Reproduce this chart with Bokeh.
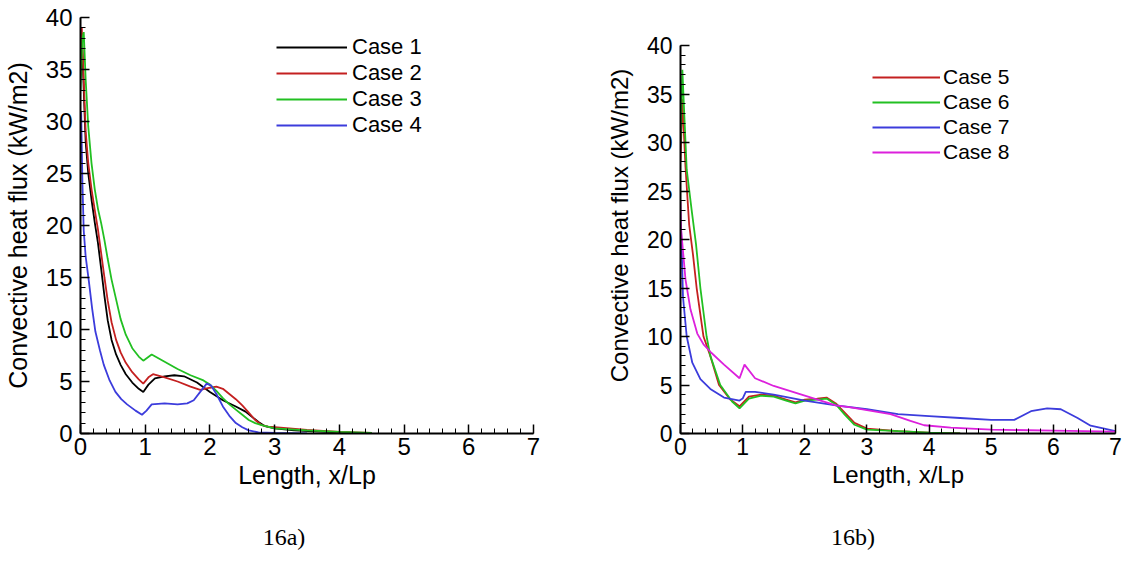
from bokeh.plotting import figure
from bokeh.layouts import row, column
from bokeh.models import Range1d, SingleIntervalTicker, Div
from bokeh.embed import file_html
from bokeh.resources import INLINE

# ---------------- data ----------------
# Panel 16a
case1_x = [0, 0.02, 0.05, 0.08, 0.12, 0.17, 0.22, 0.27, 0.32, 0.37, 0.42, 0.48, 0.55, 0.62, 0.7, 0.8, 0.9, 0.97,
           1.05, 1.15, 1.3, 1.45, 1.6, 1.8, 2.0, 2.2, 2.4, 2.55, 2.65, 2.75, 2.85, 3.0, 3.3, 3.6, 4.0, 4.5]
case1_y = [36, 38.5, 33, 28, 25, 22.5, 20.3, 18.3, 15.8, 13.2, 10.9, 9.0, 7.6, 6.6, 5.7, 4.9, 4.3, 4.0,
           4.7, 5.3, 5.5, 5.6, 5.5, 4.9, 4.0, 3.2, 2.6, 2.1, 1.6, 1.1, 0.7, 0.5, 0.3, 0.2, 0.1, 0.0]

case2_x = [0, 0.02, 0.05, 0.08, 0.12, 0.17, 0.22, 0.27, 0.32, 0.37, 0.42, 0.48, 0.55, 0.62, 0.7, 0.8, 0.9, 0.97,
           1.05, 1.12, 1.3, 1.5, 1.7, 1.85, 2.0, 2.1, 2.2, 2.3, 2.4, 2.5, 2.6, 2.7, 2.8, 2.9, 3.0, 3.5, 4.0, 4.5]
case2_y = [36, 39, 34, 29, 26, 23.5, 21.5, 19.6, 17.3, 15.0, 12.8, 10.7, 9.0, 7.8, 6.8, 5.9, 5.2, 4.8,
           5.4, 5.7, 5.4, 5.0, 4.5, 4.2, 4.4, 4.5, 4.3, 3.8, 3.3, 2.7, 2.0, 1.3, 0.8, 0.65, 0.6, 0.35, 0.15, 0.05]

case3_x = [0, 0.03, 0.05, 0.08, 0.12, 0.17, 0.22, 0.27, 0.32, 0.37, 0.42, 0.48, 0.55, 0.62, 0.7, 0.8, 0.9, 0.97,
           1.1, 1.3, 1.5, 1.7, 1.9, 2.0, 2.1, 2.2, 2.3, 2.4, 2.5, 2.6, 2.7, 2.8, 3.0, 3.5, 4.0, 4.5]
case3_y = [33, 38, 38.6, 34, 29.5, 26, 23.5, 21.6, 20.2, 18.6, 16.8, 14.8, 12.9, 11.0, 9.5, 8.2, 7.4, 7.0,
           7.6, 6.9, 6.2, 5.6, 5.1, 4.7, 4.1, 3.4, 2.8, 2.3, 1.8, 1.3, 1.0, 0.8, 0.5, 0.3, 0.15, 0.05]

case4_x = [0, 0.01, 0.03, 0.05, 0.08, 0.13, 0.18, 0.23, 0.3, 0.36, 0.45, 0.54, 0.63, 0.72, 0.85, 0.95,
           1.02, 1.1, 1.3, 1.5, 1.65, 1.75, 1.85, 1.95, 2.02, 2.1, 2.2, 2.3, 2.4, 2.5, 2.6, 2.75, 3.0, 3.5]
case4_y = [28, 31, 24, 19.5, 17, 14.6, 12.0, 9.8, 8.0, 6.6, 5.1, 4.0, 3.3, 2.8, 2.2, 1.8,
           2.2, 2.8, 2.9, 2.8, 2.9, 3.2, 4.0, 4.8, 4.6, 3.8, 2.6, 1.7, 1.0, 0.6, 0.3, 0.1, 0.05, 0.0]

# Panel 16b
case5_x = [0, 0.03, 0.08, 0.14, 0.2, 0.26, 0.37, 0.48, 0.62, 0.8, 0.95, 1.1, 1.3, 1.5, 1.7, 1.85, 2.0, 2.2, 2.35,
           2.5, 2.65, 2.8, 3.0, 3.5, 4.0, 4.5]
case5_y = [28, 34.5, 27.5, 21.5, 18.5, 15, 10, 8, 5, 3.5, 2.8, 3.8, 4.0, 3.9, 3.5, 3.2, 3.5, 3.6, 3.7,
           3.1, 2.1, 1.1, 0.5, 0.25, 0.1, 0.0]

case6_x = [0, 0.03, 0.06, 0.1, 0.18, 0.25, 0.32, 0.42, 0.48, 0.64, 0.83, 0.95, 1.1, 1.3, 1.5, 1.7, 1.85, 2.0, 2.2,
           2.35, 2.5, 2.65, 2.8, 3.0, 3.5, 4.0, 4.5]
case6_y = [30, 37.5, 33, 27.2, 23, 19.5, 15, 10, 8, 5, 3.3, 2.6, 3.6, 3.9, 3.8, 3.4, 3.1, 3.4, 3.5,
           3.6, 3.0, 1.9, 0.9, 0.4, 0.25, 0.1, 0.0]

case7_x = [0, 0.01, 0.02, 0.04, 0.1, 0.19, 0.32, 0.48, 0.7, 0.95, 1.0, 1.05, 1.2, 1.5, 2.0, 2.5, 3.0, 3.5, 4.0,
           4.5, 5.0, 5.37, 5.64, 5.9, 6.12, 6.39, 6.6, 6.82, 7.0]
case7_y = [18, 21, 19, 14.1, 10, 7.3, 5.6, 4.6, 3.7, 3.4, 3.6, 4.3, 4.3, 4.0, 3.4, 2.9, 2.5, 2.0, 1.8,
           1.6, 1.4, 1.4, 2.3, 2.6, 2.5, 1.6, 0.8, 0.5, 0.25]

case8_x = [0, 0.01, 0.08, 0.16, 0.27, 0.37, 0.5, 0.7, 0.95, 1.03, 1.2, 1.5, 2.0, 2.5, 2.74, 3.0, 3.38, 3.7, 3.92,
           4.35, 5.0, 6.0, 7.0]
case8_y = [24, 21, 15.9, 12.8, 10.3, 9.2, 8.3, 7.1, 5.7, 7.1, 5.7, 4.9, 3.9, 2.9, 2.7, 2.4, 2.0, 1.3, 0.85,
           0.6, 0.4, 0.3, 0.2]

x_label = "Length, x/Lp"
y_label = "Convective heat flux (kW/m2)"
captions = ["16a)", "16b)"]

FONT = "Liberation Sans"


def make_fig(width, height, left, right, y_top, tick_fs, label_fs):
    # both frames share top 17 / bottom border 87 (row aligns frames);
    # the y axis itself is bounded to 0..40
    p = figure(width=width, height=height, x_range=Range1d(0, 7), y_range=Range1d(0, y_top),
               output_backend="svg", toolbar_location=None,
               min_border_left=left, min_border_right=right,
               min_border_top=17, min_border_bottom=87)
    p.outline_line_color = None
    p.xgrid.visible = False
    p.ygrid.visible = False
    p.background_fill_color = "white"
    p.border_fill_color = "white"
    p.xaxis.ticker = SingleIntervalTicker(interval=1, num_minor_ticks=5)
    p.yaxis.ticker = SingleIntervalTicker(interval=5, num_minor_ticks=5)
    p.yaxis.bounds = (0, 40)
    for ax in (p.xaxis[0], p.yaxis[0]):
        ax.axis_line_width = 2
        ax.axis_line_color = "black"
        ax.major_tick_in = 9
        ax.major_tick_out = 0
        ax.minor_tick_in = 5
        ax.minor_tick_out = 0
        ax.major_tick_line_width = 1.5
        ax.minor_tick_line_width = 1
        ax.major_label_text_font = FONT
        ax.major_label_text_font_size = tick_fs
        ax.major_label_text_color = "black"
        ax.axis_label_text_font = FONT
        ax.axis_label_text_font_size = label_fs
        ax.axis_label_text_font_style = "normal"
        ax.axis_label_text_color = "black"
    p.xaxis.axis_label = x_label
    p.yaxis.axis_label = y_label
    p.xaxis.major_label_standoff = 4
    p.yaxis.major_label_standoff = 8
    p.xaxis.axis_label_standoff = 3
    p.yaxis.axis_label_standoff = 11
    return p


def style_legend(p, loc, glyph_w, standoff, fs, spacing):
    lg = p.legend[0]
    lg.location = loc
    lg.background_fill_alpha = 0
    lg.border_line_alpha = 0
    lg.padding = 0
    lg.margin = 0
    lg.spacing = spacing
    lg.glyph_width = glyph_w
    lg.glyph_height = 20
    lg.label_height = 20
    lg.label_standoff = standoff
    lg.label_text_font = FONT
    lg.label_text_font_size = fs
    lg.label_text_color = "black"


RED = "#c42020"
GREEN = "#22c022"
BLUE = "#3c3cdc"
MAGENTA = "#dc20dc"
LW = 1.8

p1 = make_fig(600, 520, 80, 67, 40, "24px", "25px")
p1.line(case1_x, case1_y, line_color="black", line_width=LW, legend_label="Case 1")
p1.line(case2_x, case2_y, line_color=RED, line_width=LW, legend_label="Case 2")
p1.line(case3_x, case3_y, line_color=GREEN, line_width=LW, legend_label="Case 3")
p1.line(case4_x, case4_y, line_color=BLUE, line_width=LW, legend_label="Case 4")
style_legend(p1, (196, 295), 71, 5, "22px", 0)

p2 = make_fig(523, 520, 80, 8, 42.89, "23px", "24px")
p2.line(case5_x, case5_y, line_color=RED, line_width=LW, legend_label="Case 5")
p2.line(case6_x, case6_y, line_color=GREEN, line_width=LW, legend_label="Case 6")
p2.line(case7_x, case7_y, line_color=BLUE, line_width=LW, legend_label="Case 7")
p2.line(case8_x, case8_y, line_color=MAGENTA, line_width=LW, legend_label="Case 8")
style_legend(p2, (192, 269), 68, 3, "21px", 1)


def caption(text, width, center):
    html = ('<div style="width:100px;margin-left:%dpx;padding-top:5px;text-align:center;'
            'font-family:\'Liberation Serif\',serif;font-size:24px;line-height:24px;color:black">%s</div>'
            % (center - 50, text))
    return Div(text=html, width=width, height=43, margin=0)


cap1 = caption(captions[0], 600, 284)
cap2 = caption(captions[1], 523, 253)

layout = column(row(p1, p2), row(cap1, cap2))

open("out.html", "w").write(file_html(layout, INLINE))
